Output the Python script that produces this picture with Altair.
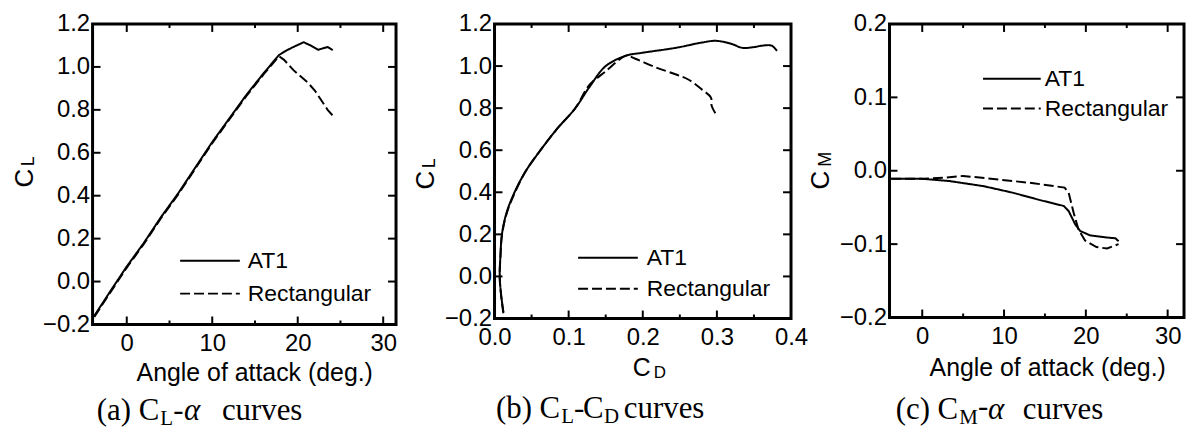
import altair as alt
import pandas as pd

# ---------------- data ----------------
SERIES = ["AT1", "Rectangular"]

# (a) C_L vs angle of attack
a_at1_alpha = [-3.8, -2, 0, 2, 4, 6, 8, 10, 12, 14, 16, 17.8, 18.6, 19.6, 20.7, 21.5, 22.4, 23.5, 24.1]
a_at1_cl = [-0.16, -0.05, 0.07, 0.18, 0.30, 0.41, 0.53, 0.65, 0.76, 0.87, 0.97, 1.055, 1.075, 1.095, 1.115, 1.10, 1.08, 1.093, 1.078]
a_rect_alpha = [-3.8, -2, 0, 2, 4, 6, 8, 10, 12, 14, 16, 17.8, 18.4, 19.5, 21.2, 22.0, 22.7, 23.5, 24.1]
a_rect_cl = [-0.165, -0.055, 0.065, 0.175, 0.295, 0.405, 0.525, 0.645, 0.755, 0.865, 0.965, 1.05, 1.033, 0.985, 0.926, 0.89, 0.848, 0.80, 0.773]

# (b) C_L vs C_D
b_at1_cd = [0.012, 0.009, 0.007, 0.008, 0.010, 0.016, 0.027, 0.042, 0.062, 0.084, 0.109, 0.128, 0.150, 0.178,
            0.199, 0.245, 0.280, 0.299, 0.320, 0.334, 0.350, 0.361, 0.374, 0.381]
b_at1_cl = [-0.17, -0.09, 0.0, 0.10, 0.20, 0.30, 0.40, 0.50, 0.60, 0.70, 0.80, 0.90, 1.00, 1.05,
            1.063, 1.087, 1.112, 1.12, 1.105, 1.087, 1.09, 1.097, 1.097, 1.072]
b_rect_cd = [0.012, 0.009, 0.007, 0.008, 0.010, 0.016, 0.027, 0.042, 0.062, 0.084, 0.109, 0.128, 0.150, 0.170, 0.178,
             0.190, 0.218, 0.245, 0.262, 0.280, 0.292, 0.293, 0.299]
b_rect_cl = [-0.175, -0.095, -0.005, 0.095, 0.195, 0.295, 0.395, 0.50, 0.60, 0.70, 0.80, 0.91, 0.975, 1.035, 1.05,
             1.035, 0.993, 0.96, 0.935, 0.888, 0.85, 0.81, 0.77]

# (c) C_M vs angle of attack
c_at1_alpha = [-3.8, 0, 3.3, 7.5, 11.1, 14.4, 17.3, 17.9, 18.7, 19.3, 20.5, 22.6, 23.6, 24.0]
c_at1_cm = [-0.011, -0.011, -0.014, -0.021, -0.030, -0.040, -0.048, -0.055, -0.073, -0.082, -0.088, -0.091, -0.092, -0.096]
c_rect_alpha = [-3.8, 0, 2.6, 5.0, 9.4, 13.6, 17.4, 17.9, 18.5, 19.1, 19.9, 21.3, 22.6, 24.0]
c_rect_cm = [-0.011, -0.011, -0.0095, -0.007, -0.012, -0.017, -0.023, -0.030, -0.057, -0.080, -0.095, -0.104, -0.106, -0.100]

# axis ticks / labels
alpha_major = [0, 10, 20, 30]
alpha_minor = [5, 15, 25]
cd_major = [0.0, 0.1, 0.2, 0.3, 0.4]
cd_minor = [0.05, 0.15, 0.25, 0.35]
cl_major = [-0.2, 0.0, 0.2, 0.4, 0.6, 0.8, 1.0, 1.2]
cm_major = [-0.2, -0.1, 0.0, 0.1, 0.2]

SANS = "Liberation Sans"
SERIF = "Liberation Serif"
DASH = [10, 4]
DUMMY = pd.DataFrame({"k": [0]})


def frame(series_x, series_y):
    rows = []
    for name, xv, yv in zip(SERIES, series_x, series_y):
        for i, (a, b) in enumerate(zip(xv, yv)):
            rows.append({"series": name, "i": i, "x": a, "y": b})
    return pd.DataFrame(rows)


def txt(t, x, y, size, font=SANS, align="left", baseline="middle", angle=0, style="normal"):
    return alt.Chart(DUMMY).mark_text(
        text=t, font=font, fontSize=size, align=align, baseline=baseline,
        angle=angle, fontStyle=style, color="black"
    ).encode(x=alt.value(x), y=alt.value(y))


def panel(df, xdom, ydom, W, H, xmaj, xmin, ymaj, xfmt, yfmt, leg, ytitle, xtitle, subtitle, interp="linear"):
    xs = alt.Scale(domain=xdom, nice=False, zero=False)
    ys = alt.Scale(domain=ydom, nice=False, zero=False)
    common = dict(ticks=False, tickSize=0, domain=False, grid=False, title=None,
                  labelFont=SANS, labelFontSize=24, labelColor="black",
                  labelFlush=False, labelOverlap=False)
    lines = alt.Chart(df).mark_line(color="black", strokeWidth=2, clip=True, interpolate=interp).encode(
        x=alt.X("x:Q", scale=xs, axis=alt.Axis(values=xmaj, format=xfmt, labelPadding=7, **common)),
        y=alt.Y("y:Q", scale=ys, axis=alt.Axis(values=ymaj, format=yfmt, labelPadding=3, **common)),
        strokeDash=alt.StrokeDash("series:N", scale=alt.Scale(domain=SERIES, range=[[1, 0], DASH]), legend=None),
        detail="series:N",
        order="i:Q",
    )
    layers = [lines]

    def xt(vals, L):
        d = pd.DataFrame({"tv": vals})
        base = alt.Chart(d).mark_rule(color="black", strokeWidth=2)
        return [
            base.encode(x=alt.X("tv:Q", scale=xs, axis=None), y=alt.value(H), y2=alt.value(H - L)),
            base.encode(x=alt.X("tv:Q", scale=xs, axis=None), y=alt.value(0), y2=alt.value(L)),
        ]

    def yt(vals, L):
        d = pd.DataFrame({"tv": vals})
        base = alt.Chart(d).mark_rule(color="black", strokeWidth=2)
        return [
            base.encode(y=alt.Y("tv:Q", scale=ys, axis=None), x=alt.value(0), x2=alt.value(L)),
            base.encode(y=alt.Y("tv:Q", scale=ys, axis=None), x=alt.value(W), x2=alt.value(W - L)),
        ]

    layers += xt(xmaj, 8) + xt(xmin, 4) + yt(ymaj, 8)

    # legend
    lx1, lx2, ly1, ly2, tx = leg
    layers.append(alt.Chart(DUMMY).mark_rule(color="black", strokeWidth=2).encode(
        x=alt.value(lx1), x2=alt.value(lx2), y=alt.value(ly1)))
    layers.append(alt.Chart(DUMMY).mark_rule(color="black", strokeWidth=2, strokeDash=DASH).encode(
        x=alt.value(lx1), x2=alt.value(lx2), y=alt.value(ly2)))
    layers.append(txt("AT1", tx, ly1, 23))
    layers.append(txt("Rectangular", tx, ly2, 23))

    layers += ytitle + xtitle + subtitle
    return alt.layer(*layers).resolve_axis(x="independent", y="independent").properties(width=W, height=H)


# ---------------- panels ----------------
dfa = frame([a_at1_alpha, a_rect_alpha], [a_at1_cl, a_rect_cl])
dfb = frame([b_at1_cd, b_rect_cd], [b_at1_cl, b_rect_cl])
dfc = frame([c_at1_alpha, c_rect_alpha], [c_at1_cm, c_rect_cm])

WA, HA = 305, 302
WB, HB = 298, 296
WC, HC = 296, 295

pa = panel(
    dfa, [-4, 31.5], [-0.2, 1.2], WA, HA, alpha_major, alpha_minor, cl_major, "d", ".1f",
    (88, 148, 238, 271, 156),
    [txt("C", -68, 155, 26, angle=270, align="center"), txt("L", -64, 138, 18, angle=270, align="center")],
    [txt("Angle of attack (deg.)", 163, 359, 25, align="center", baseline="alphabetic")],
    [txt("(a) C", 67, 398, 31, font=SERIF, align="right", baseline="alphabetic"),
     txt("L", 68, 403, 21, font=SERIF, baseline="alphabetic"),
     txt("-", 81, 398, 31, font=SERIF, baseline="alphabetic"),
     txt("α", 92, 398, 31, font=SERIF, baseline="alphabetic", style="italic"),
     txt("curves", 130, 398, 31, font=SERIF, baseline="alphabetic")],
)

pb = panel(
    dfb, [0.0, 0.4], [-0.2, 1.2], WB, HB, cd_major, cd_minor, cl_major, ".1f", ".1f",
    (84, 144, 235, 266, 153),
    [txt("C", -69, 157, 26, angle=270, align="center"), txt("L", -65, 140, 18, angle=270, align="center")],
    [txt("C", 148, 354, 25, align="center", baseline="alphabetic"),
     txt("D", 160, 356, 17, baseline="alphabetic")],
    [txt("(b) C", 66, 396, 31, font=SERIF, align="right", baseline="alphabetic"),
     txt("L", 67, 401, 21, font=SERIF, baseline="alphabetic"),
     txt("-", 80, 396, 31, font=SERIF, baseline="alphabetic"),
     txt("C", 89, 396, 31, font=SERIF, baseline="alphabetic"),
     txt("D", 110, 401, 21, font=SERIF, baseline="alphabetic"),
     txt("curves", 130, 396, 31, font=SERIF, baseline="alphabetic")],
    interp="catmull-rom",
)

pc = panel(
    dfc, [-4, 32], [-0.2, 0.2], WC, HC, alpha_major, alpha_minor, cm_major, "d", ".1f",
    (94, 152, 55, 85, 156),
    [txt("C", -69, 157, 26, angle=270, align="center"), txt("M", -64, 136, 18, angle=270, align="center")],
    [txt("Angle of attack (deg.)", 159, 354, 25, align="center", baseline="alphabetic")],
    [txt("(c) C", 69, 397, 31, font=SERIF, align="right", baseline="alphabetic"),
     txt("M", 70, 402, 21, font=SERIF, baseline="alphabetic"),
     txt("-", 89, 394, 31, font=SERIF, baseline="alphabetic"),
     txt("α", 99, 397, 31, font=SERIF, baseline="alphabetic", style="italic"),
     txt("curves", 134, 397, 31, font=SERIF, baseline="alphabetic")],
)

chart = alt.hconcat(pa, pb, pc, spacing=99, bounds="flush").properties(
    padding={"left": 2, "top": 1, "right": 0, "bottom": 0},
    background="white",
).configure_view(stroke="black", strokeWidth=3)

chart.save("out.html", embed_options={"renderer": "svg", "actions": False})
